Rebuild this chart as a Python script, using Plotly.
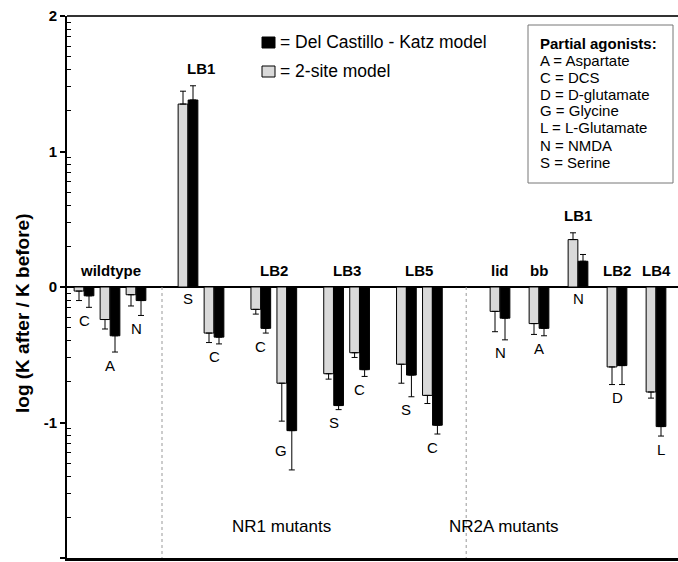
import plotly.graph_objects as go
import numpy as np

# ---------------- data ----------------
group_names = ["wildtype", "LB1", "LB2", "LB3", "LB5", "lid", "bb", "LB1", "LB2", "LB4"]
group_section = ["WT", "NR1", "NR1", "NR1", "NR1", "NR2A", "NR2A", "NR2A", "NR2A", "NR2A"]
bar_group = [0, 0, 0, 1, 1, 2, 2, 3, 3, 4, 4, 5, 6, 7, 8, 9]
agonists = ["C", "A", "N", "S", "C", "C", "G", "S", "C", "S", "C", "N", "A", "N", "D", "L"]

two_site_values = [-0.03, -0.24, -0.057, 1.35, -0.34, -0.165, -0.71, -0.64, -0.485,
                   -0.57, -0.80, -0.18, -0.27, 0.35, -0.59, -0.775]
two_site_err = [0.07, 0.07, 0.083, 0.095, 0.07, 0.035, 0.28, 0.04, 0.035,
                0.14, 0.06, 0.15, 0.08, 0.05, 0.13, 0.045]
dck_values = [-0.065, -0.36, -0.10, 1.38, -0.37, -0.305, -1.06, -0.875, -0.61,
              -0.65, -1.02, -0.23, -0.305, 0.19, -0.58, -1.03]
dck_err = [0.085, 0.12, 0.11, 0.105, 0.05, 0.035, 0.29, 0.03, 0.05,
           0.16, 0.065, 0.16, 0.055, 0.05, 0.14, 0.07]

y_title = "log (K after / K before)"
section_labels = {"NR1": "NR1 mutants", "NR2A": "NR2A mutants"}
legend_labels = ["= Del Castillo - Katz model", "= 2-site model"]
agonist_key_title = "Partial agonists:"
agonist_key = ["A = Aspartate", "C = DCS", "D = D-glutamate", "G = Glycine",
               "L = L-Glutamate", "N = NMDA", "S = Serine"]

# ---------------- layout constants ----------------
FONT = "Arial, Liberation Sans, sans-serif"
GRAY = "#d9d9d9"
WITHIN_STEP = 1.0
GROUP_STEP = {"NR1": 1.8, "NR2A": 1.5}
SECTION_STEP = {"NR1": 2.0, "NR2A": 2.6}

W, H = 678, 562
ML, MR, MT, MB = 67, 0, 16, 4
PW, PH = W - ML - MR, H - MT - MB

# positions of each bar pair from the group structure
pos = []
for i, g in enumerate(bar_group):
    if i == 0:
        x = 0.0
    else:
        pg = bar_group[i - 1]
        if g == pg:
            x += WITHIN_STEP
        elif group_section[g] != group_section[pg]:
            x += SECTION_STEP[group_section[g]]
        else:
            x += GROUP_STEP[group_section[g]]
    pos.append(x)

def px_to_paper_x(px):
    return (px - ML) / PW

def px_to_paper_y(py):
    return (H - MB - py) / PH

def err_arrays(vals, errs):
    plus = [e if v > 0 else 0 for v, e in zip(vals, errs)]
    minus = [e if v < 0 else 0 for v, e in zip(vals, errs)]
    return plus, minus

fig = go.Figure()
for name, vals, errs, color in [
    (legend_labels[1], two_site_values, two_site_err, GRAY),
    (legend_labels[0], dck_values, dck_err, "black"),
]:
    plus, minus = err_arrays(vals, errs)
    fig.add_trace(go.Bar(
        x=pos, y=vals, name=name, showlegend=False,
        marker=dict(color=color, line=dict(color="black", width=1)),
        error_y=dict(type="data", symmetric=False, array=plus, arrayminus=minus,
                     color="black", thickness=1, width=3),
    ))

annotations = []
# group labels
for gi, gname in enumerate(group_names):
    idx = [i for i, g in enumerate(bar_group) if g == gi]
    gx = float(np.mean([pos[i] for i in idx]))
    tops = [v + e for i in idx for v, e in ((two_site_values[i], two_site_err[i]), (dck_values[i], dck_err[i])) if v > 0]
    gy = max([0.0] + tops)
    annotations.append(dict(x=gx, y=gy, xref="x", yref="y", text=gname, showarrow=False,
                            yshift=17, font=dict(family=FONT, size=15, color="black", weight="bold")))

# agonist labels
nudges = {6: (-6, 32), 15: (5, 0)}
for i, ag in enumerate(agonists):
    ends = [v - e for v, e in ((two_site_values[i], two_site_err[i]), (dck_values[i], dck_err[i])) if v < 0]
    if ends:
        ay, ys = min(ends), -13
    else:
        ay, ys = 0.0, -11
    xs, dy = nudges.get(i, (0, 0))
    annotations.append(dict(x=pos[i], y=ay, xref="x", yref="y", text=ag, showarrow=False,
                            xshift=xs, yshift=ys + dy,
                            font=dict(family=FONT, size=15, color="black")))

# section labels
for sec, sx in [("NR1", 281), ("NR2A", 561)]:
    annotations.append(dict(x=px_to_paper_x(sx), y=px_to_paper_y(538), xref="paper", yref="paper",
                            text=section_labels[sec], showarrow=False,
                            font=dict(family=FONT, size=17, color="black")))

# y-axis title (rotated, placed as in the reference)
annotations.append(dict(x=px_to_paper_x(22), y=px_to_paper_y(313), xref="paper", yref="paper",
                        text=y_title, textangle=-90, showarrow=False,
                        xanchor="center", yanchor="middle",
                        font=dict(family=FONT, size=19, color="black", weight="bold")))

shapes = []
# section dividers (dotted, below zero)
for i in range(1, len(bar_group)):
    g, pg = bar_group[i], bar_group[i - 1]
    if group_section[g] != group_section[pg]:
        dx = (pos[i] + pos[i - 1]) / 2
        shapes.append(dict(type="line", xref="x", yref="y", x0=dx, x1=dx, y0=0, y1=-2,
                           line=dict(color="#999999", width=1, dash="dot")))

# legend squares and text
for k, (color, py) in enumerate([("black", 42), (GRAY, 71)]):
    shapes.append(dict(type="rect", xref="paper", yref="paper",
                       x0=px_to_paper_x(262), x1=px_to_paper_x(275),
                       y0=px_to_paper_y(py + 6), y1=px_to_paper_y(py - 5),
                       fillcolor=color, line=dict(color="black", width=1)))
    annotations.append(dict(x=px_to_paper_x(278), y=px_to_paper_y(py), xref="paper", yref="paper",
                            xanchor="left", yanchor="middle", text=legend_labels[k], showarrow=False,
                            font=dict(family=FONT, size=17.5, color="black")))

# partial agonists box
shapes.append(dict(type="rect", xref="paper", yref="paper",
                   x0=px_to_paper_x(528), x1=px_to_paper_x(673),
                   y0=px_to_paper_y(183), y1=px_to_paper_y(25),
                   line=dict(color="#777777", width=1), fillcolor="rgba(0,0,0,0)"))
for j, line in enumerate([agonist_key_title] + agonist_key):
    annotations.append(dict(x=px_to_paper_x(538), y=px_to_paper_y(43 + 17 * j), xref="paper", yref="paper",
                            xanchor="left", yanchor="middle", text=line, showarrow=False,
                            font=dict(family=FONT, size=15, color="black",
                                      weight="bold" if j == 0 else "normal")))

# top frame line
shapes.append(dict(type="line", xref="paper", yref="paper", x0=0, x1=1, y0=1, y1=1,
                   line=dict(color="#333333", width=2)))

minor_vals = [d + np.log10(k) for d in range(-2, 2) for k in range(2, 10)]

fig.update_layout(
    width=W, height=H,
    margin=dict(l=ML, r=MR, t=MT, b=MB),
    paper_bgcolor="white", plot_bgcolor="white",
    barmode="group", bargap=0.23, bargroupgap=0.03,
    annotations=annotations, shapes=shapes,
    font=dict(family=FONT, color="black"),
    xaxis=dict(range=[-0.654, 22.846], showticklabels=False, ticks="", showgrid=False,
               zeroline=False, showline=True, linecolor="black", linewidth=2.5, mirror=False),
    yaxis=dict(range=[-2, 2], tickvals=[-2, -1, 0, 1, 2], ticktext=["-2", "-1", "0", "1", "2"],
               ticks="outside", ticklen=5, tickwidth=1.5, tickcolor="black",
               tickfont=dict(family=FONT, size=15, color="black", weight="bold"),
               showgrid=False, showline=True, linecolor="black", linewidth=2,
               zeroline=True, zerolinecolor="black", zerolinewidth=1.5,
               minor=dict(tickvals=minor_vals, ticks="inside", ticklen=4, tickcolor="black",
                          tickwidth=1, showgrid=False)),
)

fig.write_html(
    "out.html",
    config={"displayModeBar": False},
    post_script="document.body.style.margin='0';document.body.style.overflow='hidden';",
)
